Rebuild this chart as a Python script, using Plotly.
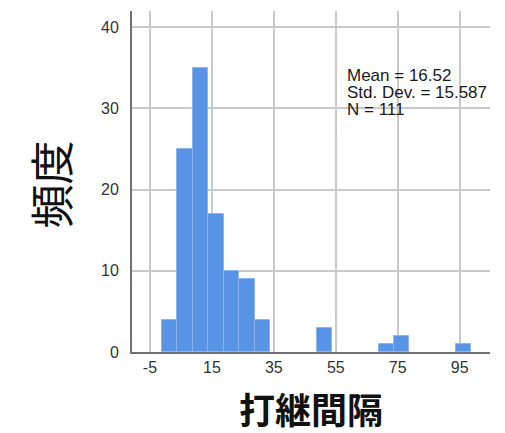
import plotly.graph_objects as go

# Histogram data (bin centres, width 5)
bin_centers = [1.3, 6.3, 11.3, 16.3, 21.3, 26.3, 31.3, 51.3, 71.3, 76.3, 96.3]
counts = [4, 25, 35, 17, 10, 9, 4, 3, 1, 2, 1]
bin_width = 5

x_ticks = [-5, 15, 35, 55, 75, 95]
y_ticks = [0, 10, 20, 30, 40]
stats_lines = ["Mean = 16.52", "Std. Dev. = 15.587", "N = 111"]
x_title = "打継間隔"
y_title = "頻度"

fig = go.Figure()
fig.add_trace(go.Bar(
    x=bin_centers, y=counts, width=[bin_width] * len(counts),
    marker=dict(color="#5893e6", line=dict(color="#8db6ef", width=1)),
    showlegend=False,
))

grid = "#c9c9c9"
fig.update_xaxes(
    range=[-10.8, 104.8], tickvals=x_ticks, ticktext=[str(v) for v in x_ticks],
    showgrid=True, gridcolor=grid, gridwidth=2,
    showline=True, linecolor="#707070", linewidth=2,
    zeroline=False, ticks="", ticklen=0,
    tickfont=dict(family="Liberation Sans, Arial", size=16, color="#333333"),
)
fig.update_yaxes(
    range=[0, 42], tickvals=y_ticks,
    showgrid=True, gridcolor=grid, gridwidth=2,
    showline=True, linecolor="#707070", linewidth=2,
    zeroline=False, ticks="", ticklabelstandoff=8,
    tickfont=dict(family="Liberation Sans, Arial", size=16, color="#333333"),
)

annotations = []
stat_y = [34.1, 32.0, 29.9]
for txt, yy in zip(stats_lines, stat_y):
    annotations.append(dict(
        x=58.4, y=yy, xref="x", yref="y", text=txt, showarrow=False,
        xanchor="left", yanchor="middle", borderpad=0,
        font=dict(family="Liberation Sans, Arial", size=17, color="#1a1a1a"),
    ))
annotations.append(dict(
    x=-0.23, y=0.49, xref="paper", yref="paper", text=y_title, showarrow=False,
    textangle=-90, xanchor="center", yanchor="middle",
    font=dict(family="Noto Sans CJK JP", size=44, color="#111111"),
))
annotations.append(dict(
    x=0.5, y=-0.164, xref="paper", yref="paper", text="<b>" + x_title + "</b>",
    showarrow=False, xanchor="center", yanchor="middle",
    font=dict(family="Noto Sans CJK JP", size=36, color="#111111"),
))

fig.update_layout(
    width=497, height=425,
    margin=dict(l=124, r=15, t=3, b=81),
    paper_bgcolor="white", plot_bgcolor="white",
    bargap=0, annotations=annotations,
)

fig.write_html("out.html")
